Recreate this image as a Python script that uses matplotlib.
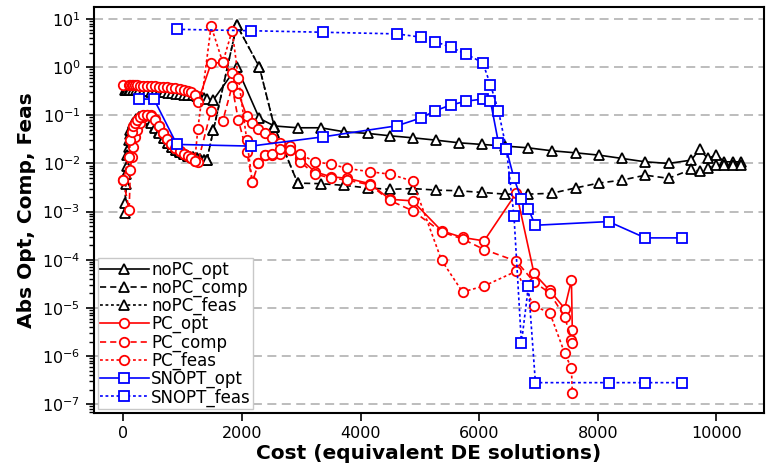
import numpy as np
import matplotlib.pyplot as plt
from matplotlib.ticker import LogLocator, NullFormatter

# ---------------- data (cost in equivalent DE solutions) ----------------
# noPC
nopc_x = [30, 50, 70, 90, 120, 160, 210, 270, 330, 400, 470, 540, 610, 680,
          750, 820, 890, 960, 1030, 1100, 1170, 1240, 1300, 1360, 1409,
          1520, 1914, 2295, 2547, 2941, 3328, 3726, 4120, 4495, 4887, 5264,
          5662, 6044, 6443, 6823, 7227, 7626, 8013, 8406, 8800, 9192, 9574,
          9714, 9854, 9995, 10135, 10274, 10416]
nopc_opt = [0.34, 0.34, 0.34, 0.34, 0.34, 0.33, 0.33, 0.33, 0.32, 0.32, 0.31,
            0.31, 0.30, 0.30, 0.29, 0.29, 0.28, 0.28, 0.27, 0.27, 0.26, 0.25,
            0.24, 0.23, 0.22,
            0.21, 1.0, 0.086, 0.06, 0.055, 0.055, 0.0454, 0.042, 0.0375, 0.034,
            0.0305, 0.0268, 0.0248, 0.0229, 0.0211, 0.0183, 0.0166, 0.0149,
            0.0127, 0.0108, 0.0100, 0.0117, 0.0195, 0.0127, 0.0149, 0.0108,
            0.0108, 0.0108]
nopc_comp = [0.00093, 0.0038, 0.009, 0.022, 0.04, 0.06, 0.078, 0.09, 0.095,
             0.09, 0.075, 0.058, 0.044, 0.034, 0.027, 0.022, 0.019, 0.017,
             0.0155, 0.0145, 0.0137, 0.013, 0.0125, 0.012, 0.0117,
             0.049, 7.5, 1.0, 0.058, 0.0039, 0.0038, 0.0035, 0.0031, 0.0029,
             0.003, 0.0028, 0.0027, 0.0025, 0.0023, 0.0023, 0.0024, 0.0031,
             0.0039, 0.0045, 0.0057, 0.0049, 0.0075, 0.0069, 0.0082, 0.0092,
             0.0092, 0.0092, 0.0092]
nopc_feas = [0.0015, 0.006, 0.015, 0.03, 0.05, 0.068, 0.082, 0.09, 0.09,
             0.085, 0.07, 0.055, 0.042, 0.033, 0.026, 0.022, 0.019, 0.017,
             0.0155, 0.0145, 0.0137, 0.013, 0.0125, 0.012, 0.0117,
             0.049, 7.5, 1.0, 0.058, 0.0039] + [np.nan] * 23

# PC
pc_x = [0, 100, 120, 140, 160, 190, 230, 280, 340, 400, 460, 530, 600, 670,
        740, 810, 880, 950, 1020, 1090, 1150, 1205,
        1258, 1481, 1678, 1835, 1941, 2083, 2177, 2278, 2391, 2503, 2643,
        2811, 2980, 3232, 3497, 3776, 4158, 4495, 4877, 5365, 5719, 6083,
        6628, 6924, 7189, 7441, 7555, 7570]
pc_opt = [0.42, 0.42, 0.42, 0.42, 0.42, 0.42, 0.42, 0.41, 0.41, 0.41, 0.40,
          0.40, 0.39, 0.39, 0.38, 0.37, 0.36, 0.35, 0.34, 0.32, 0.30, 0.27,
          0.19, 1.2, 1.25, 0.74, 0.285, 0.096, 0.07, 0.053, 0.042, 0.034,
          0.026, 0.0225, 0.0127, 0.0067, 0.0053, 0.0049, 0.0038, 0.0018,
          0.00167, 0.0004, 0.00029, 0.000246, 0.00245, 5.2e-5, 2.3e-5,
          9.7e-6, 3.75e-5, 3.4e-6]
pc_comp = [0.0045, 0.0011, 0.0072, 0.0137, 0.022, 0.035, 0.05, 0.07, 0.09,
           0.1, 0.1, 0.085, 0.06, 0.042, 0.032, 0.025, 0.021, 0.018, 0.016,
           0.0145, 0.0128, 0.011,
           0.0105, 0.124, 0.077, 0.40, 0.079, 0.0174, 0.0041, 0.01, 0.0149,
           0.0149, 0.016, 0.0189, 0.0108, 0.006, 0.005, 0.0045, 0.0036,
           0.0017, 0.00104, 0.00038, 0.00027, 0.000163, 9.3e-5, 3.45e-5,
           2.04e-5, 6.5e-6, 2.2e-6, 1.9e-6]
pc_feas = [0.0045, 0.0137, 0.031, 0.045, 0.06, 0.07, 0.08, 0.09, 0.1, 0.1,
           0.095, 0.08, 0.06, 0.042, 0.032, 0.025, 0.021, 0.018, 0.016,
           0.0145, 0.0128, 0.011,
           0.053, 7.1, 1.25, 5.7, 0.6, 0.03, 0.0041, 0.01, 0.0149, 0.016,
           0.02, 0.0189, 0.0156, 0.0108, 0.0097, 0.0079, 0.0067, 0.006,
           0.0043, 9.8e-5, 2.14e-5, 2.85e-5, 5.8e-5, 1.08e-5, 8e-6, 1.15e-6,
           5.6e-7, 1.73e-7]

# SNOPT
sn_x = [258, 517, 904, 2155, 3372, 4618, 5012, 5258, 5517, 5786, 6061, 6190,
        6325, 6460, 6587, 6712, 6830, 6948, 8181, 8800, 9416]
sn_opt = [0.217, 0.217, 0.0248, 0.0229, 0.0357, 0.0606, 0.0875, 0.124, 0.163,
          0.197, 0.217, 0.197, 0.0268, 0.0195, 0.00488, 0.00179, 0.00112,
          0.00052, 0.00062, 0.000284, 0.000284]
sn_feas = [np.nan, np.nan, 6.1, 5.7, 5.3, 4.9, 4.2, 3.4, 2.6, 1.85, 1.23, 0.43,
           0.124, 0.0195, 0.0008, 1.86e-6, 2.8e-5, 2.8e-7, 2.8e-7, 2.8e-7,
           2.8e-7]

# ---------------- plot ----------------
solid = '-'
dashed = (0, (3.7, 2.4))
dotted = (0, (1.7, 1.6))

fig, ax = plt.subplots(figsize=(7.67, 4.69), dpi=100)
fig.subplots_adjust(left=0.122, right=0.996, bottom=0.119, top=0.985)

series = [
  (nopc_x, nopc_opt, 'k', '^', solid, 'noPC_opt'),
  (nopc_x, nopc_comp, 'k', '^', dashed, 'noPC_comp'),
  (nopc_x, nopc_feas, 'k', '^', dotted, 'noPC_feas'),
  (pc_x, pc_opt, 'r', 'o', solid, 'PC_opt'),
  (pc_x, pc_comp, 'r', 'o', dashed, 'PC_comp'),
  (pc_x, pc_feas, 'r', 'o', dotted, 'PC_feas'),
  (sn_x, sn_opt, 'b', 's', solid, 'SNOPT_opt'),
  (sn_x, sn_feas, 'b', 's', dotted, 'SNOPT_feas'),
]
for x, y, c, m, ls, lab in series:
  ax.plot(x, y, color=c, marker=m, linestyle=ls, lw=1.2, ms=6.8,
          mfc='white', mec=c, mew=1.3, label=lab)

ax.set_yscale('log')
ax.set_xlim(-500, 10800)
ax.set_ylim(6.5e-8, 17.7)
ax.yaxis.set_major_locator(LogLocator(base=10, numticks=20))
ax.yaxis.set_minor_locator(LogLocator(base=10, subs=np.arange(2, 10), numticks=100))
ax.yaxis.set_minor_formatter(NullFormatter())

ax.grid(True, axis='y', which='major', color='#b8b8b8', lw=1.3,
        linestyle=(0, (5, 3)))
ax.set_axisbelow(True)

ax.tick_params(axis='both', which='major', labelsize=11.5, length=6, width=1.2)
ax.tick_params(axis='y', which='minor', length=3.5, width=1)
for s in ax.spines.values():
  s.set_linewidth(1.5)

ax.set_xlabel('Cost (equivalent DE solutions)', fontsize=14.5,
              fontweight='bold', labelpad=2)
ax.set_ylabel('Abs Opt, Comp, Feas', fontsize=14.5, fontweight='bold')

leg = ax.legend(loc='lower left', fontsize=12, labelspacing=0.0,
                handlelength=2.9, handletextpad=0.15, borderpad=0.15,
                borderaxespad=0.25, framealpha=1, fancybox=False,
                edgecolor='#c8c8c8')

fig.savefig('out.png', dpi=100)
